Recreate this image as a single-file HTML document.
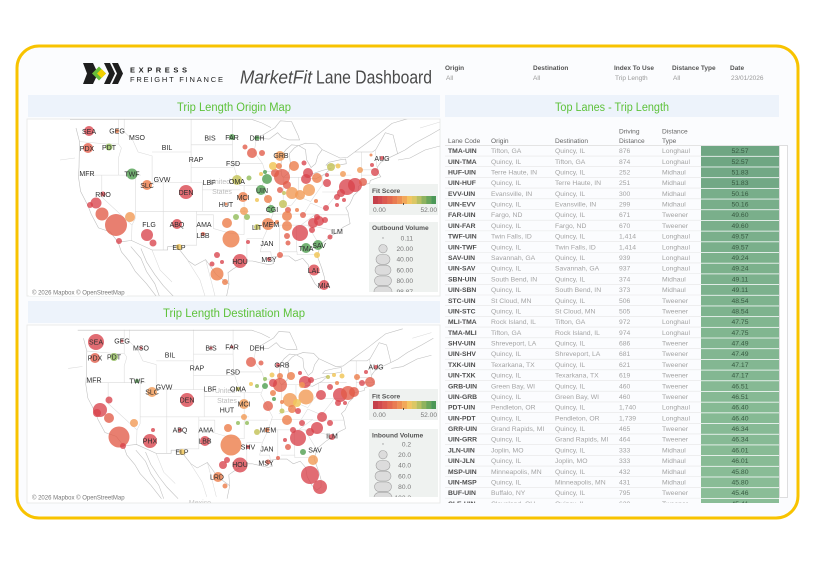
<!DOCTYPE html>
<html><head><meta charset="utf-8"><style>
html,body{margin:0;padding:0;background:#fff;}
svg{display:block;font-family:"Liberation Sans",sans-serif;}
.r{fill:#d8424b;fill-opacity:.78}
.ro{fill:#e25b48;fill-opacity:.78}
.o{fill:#ec7d4a;fill-opacity:.8}
.lo{fill:#f19a55;fill-opacity:.8}
.y{fill:#f1c75c;fill-opacity:.85}
.yg{fill:#c5c45e;fill-opacity:.85}
.lg{fill:#98c063;fill-opacity:.85}
.g{fill:#5ba45b;fill-opacity:.85}
.lb{font-size:7px;fill:#2e2e2e;text-anchor:middle;}
.th{font-size:6.6px;fill:#666;}
.lc{font-size:6.8px;fill:#4d4d4d;font-weight:bold;}
.tx{font-size:6.8px;fill:#a3a3a3;}
.sc{font-size:6.8px;fill:#375a41;text-anchor:middle;}
.fl{font-size:6.5px;fill:#555;font-weight:bold;}
.fv{font-size:6.5px;fill:#9a9a9a;}
.lgt{font-size:6.6px;fill:#555;font-weight:bold;}
.lgv{font-size:6.6px;fill:#777;}
.lgr{font-size:6.6px;fill:#777;text-anchor:end;}
</style></head><body>
<svg width="840" height="576" viewBox="0 0 840 576" xmlns="http://www.w3.org/2000/svg">
<defs>
<clipPath id="c1"><rect x="27" y="119" width="413" height="177"/></clipPath>
<clipPath id="c2"><rect x="27" y="325" width="413" height="178"/></clipPath>
<clipPath id="ct"><rect x="440" y="145" width="345" height="358"/></clipPath>
<clipPath id="lc1"><rect x="369" y="222" width="69" height="70"/></clipPath>
<clipPath id="lc2"><rect x="369" y="429" width="69" height="68"/></clipPath>
<g id="geo">
<path d="M79.5,141.6 L107.4,144 L118.6,144 M118.6,119 L118.6,144 L121.4,148 L118.6,157.5 L118.6,175.1 M78.4,175.1 L140.9,175.1 M101.8,175.1 L101.8,197.1 L132,225.1 L135.3,218.3 L135.3,175.1 M132,225.1 L131.5,240.5 M124.2,119 L124.2,131.8 L132.6,139.9 L138.1,152 L152.1,155.9 L152.1,182.6 L163.2,182.6 L163.2,211.3 M135.3,211.3 L249,211.3 M163.2,211.3 L163.2,250 M196.7,211.3 L196.7,245.2 L176.5,245.2 M152.1,152 L191.1,152 M163.2,182.6 L202.3,182.6 L202.3,211.3 M191.1,119 L191.1,182.6 M191.1,144.8 L232.5,144.8 M191.1,167.5 L233,167.5 M202.3,189.9 L240.4,189.9 M232.5,119 L232.5,144.8 L233,167.5 M233,163.7 L240,185.6 L261.6,185.6 M244.1,185.6 L244.1,234.6 M196.7,214.8 L213.4,214.8 L213.4,228.5 L230.2,233.3 L244.1,234.6 M246.9,238.6 L246.9,261 M246.9,238.6 L262.6,238.6 M244.1,214.8 L269.2,214.8 M233,163.7 L262.6,163.7 M256.4,138.3 L254.2,152 L262.6,163.7 L266,175.1 L261.5,187.8 L268.1,200 L273.7,211.3 L269.2,225.1 L263.1,238.6 L260.3,251.8 L270.8,251.8 L271.4,257 M266,171.3 L281,171.3 M283.2,177.3 L283.2,204.3 M280.4,207.8 L291.6,205 L298.3,196.4 L310.6,201.5 L321.7,185.6 M298.3,177.3 L298.3,196.4 M283.2,177.3 L306,177.3 M322.2,175.1 L322.2,185.6 M322.2,175.1 L351.3,175.1 M322.2,192 L348.5,192 M361.3,152 L361.3,182.6 M375.3,149.6 L376.9,167 M361.3,175.1 L380,175.1 M361.3,169.8 L377,169.8 M272,214.1 L315.6,214.1 L301,225.1 M269.2,225.1 L308.3,225.1 L330.6,229.8 L333.4,233.3 M315.6,214.8 L348,214.8 M310.6,203 L325,209.2 L336.2,194.9 L337.9,192 M279.3,225.1 L279.3,256 M296.6,225.1 L296.6,251.8 M282.6,251.8 L297.1,251.8 L297.1,254.5 L317,254.5 M307.7,225.1 L319.5,245.2 M310.6,203 L303.8,214.1 M152,250 L160,270 L172,282 M188,261 L200,280 L205,296 M205.6,259.6 L212,284 L215,296 M60,160 L75,158 M420,128 L440,122" fill="none" stroke="#dadada" stroke-width="0.55"/>
<path d="M76,128 L79.5,141.6 L79,167.5 L78.4,176.6 L80.6,191.4 L88,205.7 L91.2,214.1 L98.5,227.9 L110.2,231.9 L118,242 L131.5,240.5 L152.1,250 L167.7,250 L167.7,246.6 L177.1,246.6 L188.3,260.9 L195,265.4 L205.6,259.6 L216.2,274.6 L229,284.3 L228,272.7 L233,269 L241.3,264.1 L246.9,261 L252.5,261 L260.9,262.9 L269.2,264.8 L273.7,263.6 L271.4,257.2 L280.4,256 L288.8,256 L295.5,261 L302.7,258.3 L308.3,264.8 L310,274.6 L315,283.8 L320,289 L324.5,285.6 L324.5,277.6 L321.7,268 L317.2,256 L319.5,248.5 L320.6,244.7 L329.5,237.2 L336.2,232.6 L343.4,227.1 L350.1,223.7 L348,212 L345.8,207.8 L349.6,204.3 L352.4,198.5 L353.5,195.6 L358,191.4 L358.5,186.3 L359.7,185.6 L369.7,183.4 L370.3,180.5 L378,177.6 L380.8,176.8 L376.9,170.5 L377.5,167 L380.8,162.3 L389.2,157.7 L397.6,153.7 L405,150 L415,143 L430,135 L442,128 M70,119.5 L252,119.5 L262,123 L271,127.6 M322.2,149.6 L340,158 L347.4,157.5 L354.7,152 L372.5,152 L375.8,149.6 L385.3,132.7 L393.1,135.1 L397.6,153.7 M354.7,152 L374.2,137.5 L392,123.4 L410,118 M398,160 L410,158 L425,150 L440,146 M118,242 L121.4,251.8 L129.7,261.8 L135.3,271.5 L146.5,283.7 L157.6,298 M130.8,246.6 L140.9,258.3 L146.5,271.5 L154.8,283.7 L160,298 M140.9,248.5 L146.5,261.8 L154.8,274.6 L163.2,285.6 L175,298 M229,284.3 L226.2,298 M257.5,138.3 L275,127.6 L280.4,120.8 L291.6,121.6 L298.3,135.9 L299.5,139.9 L288.8,139.9 L282.1,137.5 L277.6,132.7 L269.2,139.1 Z M281.5,175.1 L283.2,177.3 L288.8,172.8 L290.4,163.7 L289.3,153.6 L294.3,148 L298.3,145.6 L291.6,144.8 L286,149.6 L281.5,155.9 L280.9,167.5 Z M298.8,145.6 L305.5,149.6 L306.6,159.8 L311.1,167.5 L315.6,163.7 L317.8,155.9 L322.2,149.6 L316.7,144 L305.5,143.2 Z M306,177.3 L315.6,178.9 L325.6,173.6 L331.2,168.2 L322.2,170.5 L311.1,174.3 Z M326.1,165.1 L339,165.1 L346.3,163.7 L345.7,159.1 L340.1,159.8 L328.9,162.3 Z" fill="none" stroke="#bfbfbf" stroke-width="0.6"/>
</g>
</defs>

<!-- frame -->
<rect x="17" y="46" width="781" height="472" rx="22" fill="#fbfcfe" stroke="#f8c300" stroke-width="3"/>

<!-- logo -->
<g transform="translate(83,63)">
<polygon points="0,0 10,0 15,10.5 10,21 0,21 4,10.5" fill="#1e1e1e"/>
<polygon points="9,10.5 16,3.5 23,10.5 16,17.5" fill="#68bd3a"/>
<polygon points="14,10.5 18.5,6 23,10.5 18.5,15" fill="#f3d000"/>
<polygon points="21,0 27,0 32,10.5 27,21 21,21 26,10.5" fill="#1e1e1e"/>
<polygon points="29,0 35,0 40,10.5 35,21 29,21 34,10.5" fill="#1e1e1e"/>
</g>
<text x="130" y="72.5" font-size="7.5" font-weight="bold" fill="#222" textLength="57" lengthAdjust="spacing">EXPRESS</text>
<text x="130" y="82" font-size="7.5" fill="#222" textLength="93" lengthAdjust="spacing">FREIGHT FINANCE</text>
<text x="240" y="83.5" font-size="18" font-style="italic" fill="#4a4a4a" textLength="72" lengthAdjust="spacingAndGlyphs">MarketFit</text>
<text x="316" y="83.5" font-size="18" fill="#4a4a4a" textLength="116" lengthAdjust="spacingAndGlyphs">Lane Dashboard</text>

<!-- filters -->
<text class="fl" x="445" y="70">Origin</text><text class="fv" x="446" y="80">All</text>
<text class="fl" x="533" y="70">Destination</text><text class="fv" x="533" y="80">All</text>
<text class="fl" x="614" y="70">Index To Use</text><text class="fv" x="615" y="80">Trip Length</text>
<text class="fl" x="672" y="70">Distance Type</text><text class="fv" x="673" y="80">All</text>
<text class="fl" x="730" y="70">Date</text><text class="fv" x="731" y="80">23/01/2026</text>

<!-- title bars -->
<rect x="28" y="95" width="412" height="22" fill="#edf3fb"/>
<text x="234" y="111" font-size="11.5" fill="#5ec23b" text-anchor="middle" textLength="114" lengthAdjust="spacingAndGlyphs">Trip Length Origin Map</text>
<rect x="28" y="301" width="412" height="22" fill="#edf3fb"/>
<text x="234" y="317" font-size="11.5" fill="#5ec23b" text-anchor="middle" textLength="142" lengthAdjust="spacingAndGlyphs">Trip Length Destination Map</text>
<rect x="445" y="95" width="334" height="22" fill="#edf3fb"/>
<text x="612" y="111" font-size="11.5" fill="#5ec23b" text-anchor="middle" textLength="114" lengthAdjust="spacingAndGlyphs">Top Lanes - Trip Length</text>

<!-- MAP 1 -->
<rect x="27" y="119" width="413" height="177" fill="#fff" stroke="#e6e6e6" stroke-width="0.8"/>
<g clip-path="url(#c1)">
<use href="#geo"/>
<text x="220" y="184" font-size="7" fill="#bdbdbd" text-anchor="middle">United</text>
<text x="222" y="194" font-size="7" fill="#bdbdbd" text-anchor="middle">States</text>
<circle class="r" cx="89" cy="131" r="5"/><circle class="o" cx="117" cy="131" r="2"/><circle class="ro" cx="88" cy="148" r="5"/><circle class="lg" cx="109" cy="147" r="3.5"/><circle class="g" cx="132" cy="174" r="5.5"/><circle class="o" cx="147" cy="185" r="5"/><circle class="r" cx="186" cy="192" r="7"/><circle class="r" cx="103" cy="194" r="2.5"/><circle class="r" cx="96" cy="203" r="5.5"/><circle class="r" cx="90" cy="205" r="3"/><circle class="ro" cx="102" cy="214" r="6.5"/><circle class="ro" cx="116" cy="225" r="11"/><circle class="r" cx="119" cy="241" r="3"/><circle class="lo" cx="130" cy="217" r="5"/><circle class="r" cx="147" cy="235" r="6"/><circle class="r" cx="153" cy="243" r="3.5"/><circle class="r" cx="177" cy="224" r="5"/><circle class="y" cx="179" cy="247" r="3"/><circle class="ro" cx="203" cy="234" r="2"/>
<circle class="o" cx="231" cy="239" r="8.5"/><circle class="o" cx="227" cy="223" r="5"/><circle class="r" cx="240" cy="261" r="7"/><circle class="r" cx="217" cy="255" r="3"/><circle class="r" cx="222" cy="262" r="2"/><circle class="r" cx="212" cy="264" r="2.5"/><circle class="o" cx="217" cy="274" r="6.5"/><circle class="o" cx="225" cy="282" r="3"/><circle class="r" cx="248" cy="242" r="2"/><circle class="o" cx="243" cy="197" r="5"/><circle class="yg" cx="237" cy="180" r="5"/><circle class="o" cx="226" cy="204" r="1.5"/><circle class="lo" cx="244" cy="211" r="4"/><circle class="lg" cx="236" cy="217" r="3"/><circle class="lg" cx="247" cy="217" r="3"/>
<circle class="g" cx="232" cy="137" r="3"/><circle class="g" cx="257" cy="138" r="2.5"/><circle class="ro" cx="245" cy="147" r="2.5"/><circle class="ro" cx="252" cy="153" r="5"/><circle class="ro" cx="262" cy="153" r="3"/><circle class="lo" cx="280" cy="156" r="5"/><circle class="g" cx="261" cy="190" r="5"/><circle class="g" cx="267" cy="179" r="5"/><circle class="lg" cx="249" cy="178" r="2.5"/><circle class="g" cx="265" cy="172" r="2"/><circle class="y" cx="261" cy="174" r="2"/><circle class="ro" cx="282" cy="177" r="8"/><circle class="ro" cx="275" cy="173" r="4"/><circle class="y" cx="273" cy="166" r="4"/><circle class="o" cx="279" cy="166" r="3"/><circle class="ro" cx="287" cy="185" r="4"/><circle class="o" cx="294" cy="166" r="5"/><circle class="r" cx="304" cy="163" r="2.5"/><circle class="r" cx="308" cy="173" r="5"/><circle class="r" cx="306" cy="179" r="5"/><circle class="o" cx="317" cy="178" r="5"/><circle class="lo" cx="309" cy="190" r="6"/><circle class="r" cx="327" cy="175" r="2"/><circle class="yg" cx="331" cy="167" r="4"/><circle class="y" cx="338" cy="166" r="2.5"/><circle class="lo" cx="343" cy="174" r="3"/><circle class="lo" cx="360" cy="170" r="3"/><circle class="r" cx="375" cy="172" r="4"/><circle class="ro" cx="280" cy="190" r="3"/><circle class="lo" cx="292" cy="193" r="6"/><circle class="lo" cx="300" cy="195" r="5"/><circle class="yg" cx="284" cy="193" r="2"/><circle class="o" cx="268" cy="199" r="4"/><circle class="o" cx="316" cy="201" r="2"/><circle class="r" cx="327" cy="183" r="4"/><circle class="r" cx="347" cy="187" r="8"/><circle class="r" cx="355" cy="185" r="7"/><circle class="ro" cx="363" cy="182" r="4"/><circle class="r" cx="341" cy="193" r="4"/><circle class="r" cx="337" cy="197" r="3"/><circle class="r" cx="344" cy="200" r="2"/><circle class="y" cx="257" cy="200" r="2"/><circle class="g" cx="271" cy="209" r="4"/><circle class="yg" cx="283" cy="204" r="4"/><circle class="ro" cx="288" cy="210" r="3"/><circle class="o" cx="287" cy="216" r="5"/><circle class="o" cx="297" cy="210" r="2"/><circle class="ro" cx="303" cy="215" r="3"/><circle class="r" cx="317" cy="217" r="3"/><circle class="r" cx="326" cy="208" r="3"/><circle class="r" cx="337" cy="205" r="2"/><circle class="o" cx="268" cy="224" r="6"/><circle class="o" cx="287" cy="226" r="5"/><circle class="o" cx="277" cy="222" r="2"/><circle class="r" cx="300" cy="233" r="8"/><circle class="r" cx="313" cy="223" r="5"/><circle class="r" cx="319" cy="221" r="5"/><circle class="r" cx="325" cy="220" r="3"/><circle class="r" cx="312" cy="230" r="3"/><circle class="ro" cx="287" cy="236" r="3"/><circle class="ro" cx="288" cy="243" r="2.5"/><circle class="yg" cx="257" cy="227" r="3"/><circle class="g" cx="306" cy="248" r="5"/><circle class="g" cx="318" cy="245" r="5"/><circle class="y" cx="317" cy="255" r="3"/><circle class="r" cx="330" cy="237" r="2.5"/><circle class="ro" cx="280" cy="255" r="3"/><circle class="r" cx="269" cy="259" r="2"/><circle class="r" cx="314" cy="270" r="5.5"/><circle class="r" cx="324" cy="285" r="5"/><circle class="o" cx="371" cy="155" r="1.5"/><circle class="r" cx="382" cy="158" r="2"/><circle class="r" cx="372" cy="165" r="2"/>
<text class="lb" x="89" y="134">SEA</text><text class="lb" x="117" y="133.5">GEG</text><text class="lb" x="137" y="140">MSO</text><text class="lb" x="210" y="140.5">BIS</text><text class="lb" x="232" y="140">FAR</text><text class="lb" x="257" y="140.5">DEH</text><text class="lb" x="167" y="150">BIL</text><text class="lb" x="87" y="151">PDX</text><text class="lb" x="109" y="150">PDT</text><text class="lb" x="196" y="162">RAP</text><text class="lb" x="281" y="158">GRB</text><text class="lb" x="382" y="161">AUG</text><text class="lb" x="233" y="166">FSD</text><text class="lb" x="87" y="176">MFR</text><text class="lb" x="132" y="176.5">TWF</text><text class="lb" x="162" y="182">GVW</text><text class="lb" x="147" y="188">SLC</text><text class="lb" x="209" y="185">LBF</text><text class="lb" x="237" y="184">OMA</text><text class="lb" x="186" y="195">DEN</text><text class="lb" x="262" y="193">UIN</text><text class="lb" x="103" y="197">RNO</text><text class="lb" x="243" y="200">MCI</text><text class="lb" x="226" y="207">HUT</text><text class="lb" x="272" y="212">CGI</text><text class="lb" x="149" y="227">FLG</text><text class="lb" x="177" y="227">ABQ</text><text class="lb" x="204" y="227">AMA</text><text class="lb" x="271" y="227">MEM</text><text class="lb" x="257" y="230">LIT</text><text class="lb" x="337" y="234">ILM</text><text class="lb" x="203" y="238">LBB</text><text class="lb" x="267" y="246">JAN</text><text class="lb" x="179" y="250">ELP</text><text class="lb" x="306" y="251">TMA</text><text class="lb" x="319" y="248">SAV</text><text class="lb" x="240" y="264">HOU</text><text class="lb" x="269" y="262">MSY</text><text class="lb" x="314" y="273">LAL</text><text class="lb" x="324" y="288">MIA</text>
<rect x="29" y="288" width="98" height="8" fill="#fff" fill-opacity="0.8"/>
<text x="32" y="294.5" font-size="6" fill="#777">© 2026 Mapbox © OpenStreetMap</text>
</g>
<!-- legend 1 -->
<rect x="369" y="184" width="69" height="31" fill="#eff2f0"/>
<text class="lgt" x="372" y="193">Fit Score</text>
<g transform="translate(373,196)">
<rect x="0" width="5" height="8" fill="#c4404a"/><rect x="4.85" width="5" height="8" fill="#d14b4f"/><rect x="9.7" width="5" height="8" fill="#dc5a50"/><rect x="14.55" width="5" height="8" fill="#e36a50"/><rect x="19.4" width="5" height="8" fill="#e97c52"/><rect x="24.25" width="5" height="8" fill="#ee9054"/><rect x="29.1" width="5" height="8" fill="#f2a85a"/><rect x="33.95" width="5" height="8" fill="#f3c462"/><rect x="38.8" width="5" height="8" fill="#dcc763"/><rect x="43.65" width="5" height="8" fill="#b7bf62"/><rect x="48.5" width="5" height="8" fill="#8fb35f"/><rect x="53.35" width="5" height="8" fill="#6aa65c"/><rect x="58.2" width="4.8" height="8" fill="#4c9857"/>
<rect x="30" y="7" width="0.8" height="2" fill="#333"/>
</g>
<text class="lgv" x="373" y="212">0.00</text><text class="lgr" x="437" y="212">52.00</text>
<rect x="369" y="222" width="69" height="70" fill="#eff2f0"/>
<text class="lgt" x="372" y="230">Outbound Volume</text>
<g clip-path="url(#lc1)">
<circle cx="383" cy="238" r="0.7" fill="#999"/>
<circle cx="383" cy="248.7" r="4.2" fill="#dcdcdc" stroke="#a0a0a0" stroke-width="0.6"/>
<rect x="376" y="254.5" width="14" height="9.8" rx="5" fill="#dcdcdc" stroke="#a0a0a0" stroke-width="0.6"/>
<rect x="375" y="265.2" width="16" height="9.8" rx="5" fill="#dcdcdc" stroke="#a0a0a0" stroke-width="0.6"/>
<rect x="374.5" y="275.9" width="17" height="9.8" rx="5" fill="#dcdcdc" stroke="#a0a0a0" stroke-width="0.6"/>
<rect x="374" y="286.6" width="18" height="12" rx="5" fill="#dcdcdc" stroke="#a0a0a0" stroke-width="0.6"/>
<text class="lgr" x="413" y="240.3">0.11</text><text class="lgr" x="413" y="251">20.00</text><text class="lgr" x="413" y="261.7">40.00</text><text class="lgr" x="413" y="272.4">60.00</text><text class="lgr" x="413" y="283.1">80.00</text><text class="lgr" x="413" y="293.8">98.87</text>
</g>

<!-- MAP 2 -->
<rect x="27" y="325" width="413" height="178" fill="#fff" stroke="#e6e6e6" stroke-width="0.8"/>
<g clip-path="url(#c2)">
<use href="#geo" transform="matrix(0.956 0 0 0.944 10.8 217.4)"/>
<text x="225" y="393" font-size="7" fill="#bdbdbd" text-anchor="middle">United</text>
<text x="227" y="403" font-size="7" fill="#bdbdbd" text-anchor="middle">States</text>
<text x="200" y="505" font-size="7" fill="#c8c8c8" text-anchor="middle">Mexico</text>
<circle class="r" cx="96" cy="342" r="8"/><circle class="ro" cx="95" cy="358" r="5"/><circle class="lg" cx="114" cy="357" r="4"/><circle class="r" cx="122" cy="341" r="1.5"/><circle class="r" cx="141" cy="348" r="1.5"/><circle class="r" cx="211" cy="348" r="1.5"/><circle class="r" cx="232" cy="347" r="1.5"/><circle class="g" cx="137" cy="381" r="2"/><circle class="lo" cx="152" cy="392" r="5"/><circle class="r" cx="187" cy="400" r="7"/><circle class="r" cx="100" cy="410" r="7"/><circle class="r" cx="97" cy="413" r="4"/><circle class="ro" cx="109" cy="418" r="5"/><circle class="r" cx="109" cy="400" r="3.5"/><circle class="ro" cx="119" cy="437" r="10.5"/><circle class="r" cx="123" cy="446" r="3"/><circle class="lo" cx="134" cy="423" r="4"/><circle class="r" cx="153" cy="430" r="2"/><circle class="r" cx="150" cy="441" r="7"/><circle class="r" cx="180" cy="430" r="2"/><circle class="r" cx="205" cy="441" r="5"/><circle class="y" cx="182" cy="452" r="3"/>
<circle class="o" cx="231" cy="445" r="10.5"/><circle class="o" cx="228" cy="428" r="4"/><circle class="r" cx="240" cy="465" r="7.5"/><circle class="r" cx="227" cy="460" r="3"/><circle class="r" cx="223" cy="465" r="4"/><circle class="o" cx="218" cy="477" r="5"/><circle class="o" cx="225" cy="486" r="2.5"/><circle class="lo" cx="244" cy="404" r="5"/><circle class="yg" cx="238" cy="389" r="2"/><circle class="lo" cx="244" cy="417" r="3"/><circle class="lg" cx="238" cy="423" r="2"/><circle class="lg" cx="247" cy="423" r="2"/><circle class="yg" cx="257" cy="432" r="3"/><circle class="r" cx="248" cy="447" r="2"/><circle class="o" cx="267" cy="430" r="2.5"/><circle class="ro" cx="268" cy="462" r="2.5"/><circle class="ro" cx="278" cy="458" r="2"/>
<circle class="ro" cx="251" cy="362" r="5"/><circle class="ro" cx="261" cy="363" r="2.5"/><circle class="r" cx="278" cy="365" r="2"/><circle class="y" cx="272" cy="375" r="2.5"/><circle class="o" cx="280" cy="376" r="3"/><circle class="o" cx="291" cy="376" r="4"/><circle class="r" cx="300" cy="373" r="2"/><circle class="r" cx="305" cy="382" r="6"/><circle class="r" cx="311" cy="380" r="3"/><circle class="lo" cx="302" cy="385" r="3"/><circle class="lg" cx="265" cy="379" r="2"/><circle class="g" cx="265" cy="386" r="3"/><circle class="lg" cx="257" cy="386" r="2"/><circle class="y" cx="251" cy="384" r="2"/><circle class="ro" cx="280" cy="385" r="7"/><circle class="r" cx="273" cy="383" r="4"/><circle class="o" cx="273" cy="393" r="3"/><circle class="g" cx="274" cy="399" r="2"/><circle class="lo" cx="290" cy="400" r="7"/><circle class="lo" cx="306" cy="397" r="7.5"/><circle class="y" cx="297" cy="403" r="4"/><circle class="o" cx="292" cy="409" r="4"/><circle class="r" cx="298" cy="411" r="3"/><circle class="ro" cx="268" cy="406" r="5"/><circle class="yg" cx="282" cy="411" r="2.5"/><circle class="o" cx="282" cy="402" r="2"/><circle class="r" cx="321" cy="395" r="5"/><circle class="r" cx="330" cy="387" r="3"/><circle class="o" cx="337" cy="383" r="2"/><circle class="yg" cx="328" cy="377" r="2"/><circle class="y" cx="334" cy="375" r="2"/><circle class="y" cx="342" cy="376" r="2.5"/><circle class="o" cx="357" cy="377" r="3"/><circle class="r" cx="366" cy="372" r="2"/><circle class="ro" cx="370" cy="382" r="5"/><circle class="r" cx="362" cy="383" r="3"/><circle class="r" cx="340" cy="395" r="7"/><circle class="ro" cx="348" cy="393" r="7"/><circle class="ro" cx="354" cy="392" r="5"/><circle class="r" cx="338" cy="403" r="3"/><circle class="r" cx="345" cy="403" r="2"/><circle class="r" cx="322" cy="417" r="5"/><circle class="r" cx="330" cy="423" r="3"/><circle class="r" cx="317" cy="428" r="6"/><circle class="r" cx="310" cy="432" r="4"/><circle class="r" cx="302" cy="423" r="3"/><circle class="r" cx="293" cy="430" r="3"/><circle class="r" cx="298" cy="438" r="8"/><circle class="o" cx="287" cy="420" r="5"/><circle class="r" cx="285" cy="440" r="2"/><circle class="ro" cx="288" cy="447" r="3"/><circle class="r" cx="332" cy="437" r="3"/><circle class="g" cx="303" cy="452" r="3"/><circle class="lo" cx="313" cy="460" r="5"/><circle class="r" cx="310" cy="475" r="9"/><circle class="r" cx="320" cy="487" r="7"/><circle class="r" cx="376" cy="367" r="2"/>
<text class="lb" x="96" y="344.5">SEA</text><text class="lb" x="122" y="343.5">GEG</text><text class="lb" x="141" y="350.5">MSO</text><text class="lb" x="211" y="350.5">BIS</text><text class="lb" x="232" y="349.5">FAR</text><text class="lb" x="257" y="350.5">DEH</text><text class="lb" x="170" y="357.5">BIL</text><text class="lb" x="95" y="360.5">PDX</text><text class="lb" x="114" y="359.5">PDT</text><text class="lb" x="197" y="370.5">RAP</text><text class="lb" x="282" y="367.5">GRB</text><text class="lb" x="376" y="369.5">AUG</text><text class="lb" x="233" y="374.5">FSD</text><text class="lb" x="94" y="382.5">MFR</text><text class="lb" x="137" y="383.5">TWF</text><text class="lb" x="164" y="389.5">GVW</text><text class="lb" x="152" y="394.5">SLC</text><text class="lb" x="210" y="391.5">LBF</text><text class="lb" x="238" y="391.5">OMA</text><text class="lb" x="187" y="402.5">DEN</text><text class="lb" x="244" y="406.5">MCI</text><text class="lb" x="227" y="412.5">HUT</text><text class="lb" x="180" y="432.5">ABQ</text><text class="lb" x="206" y="432.5">AMA</text><text class="lb" x="205" y="443.5">LBB</text><text class="lb" x="150" y="443.5">PHX</text><text class="lb" x="182" y="454.5">ELP</text><text class="lb" x="248" y="449.5">SHV</text><text class="lb" x="267" y="451.5">JAN</text><text class="lb" x="268" y="432.5">MEM</text><text class="lb" x="332" y="438.5">ILM</text><text class="lb" x="315" y="452.5">SAV</text><text class="lb" x="240" y="467">HOU</text><text class="lb" x="266" y="465.5">MSY</text><text class="lb" x="217" y="479.5">LRD</text>
<rect x="29" y="493" width="98" height="8" fill="#fff" fill-opacity="0.8"/>
<text x="32" y="499.5" font-size="6" fill="#777">© 2026 Mapbox © OpenStreetMap</text>
</g>
<!-- legend 2 -->
<rect x="369" y="389" width="69" height="31" fill="#eff2f0"/>
<text class="lgt" x="372" y="398.5">Fit Score</text>
<g transform="translate(373,401)">
<rect x="0" width="5" height="8" fill="#c4404a"/><rect x="4.85" width="5" height="8" fill="#d14b4f"/><rect x="9.7" width="5" height="8" fill="#dc5a50"/><rect x="14.55" width="5" height="8" fill="#e36a50"/><rect x="19.4" width="5" height="8" fill="#e97c52"/><rect x="24.25" width="5" height="8" fill="#ee9054"/><rect x="29.1" width="5" height="8" fill="#f2a85a"/><rect x="33.95" width="5" height="8" fill="#f3c462"/><rect x="38.8" width="5" height="8" fill="#dcc763"/><rect x="43.65" width="5" height="8" fill="#b7bf62"/><rect x="48.5" width="5" height="8" fill="#8fb35f"/><rect x="53.35" width="5" height="8" fill="#6aa65c"/><rect x="58.2" width="4.8" height="8" fill="#4c9857"/>
<rect x="30" y="7" width="0.8" height="2" fill="#333"/>
</g>
<text class="lgv" x="373" y="417">0.00</text><text class="lgr" x="437" y="417">52.00</text>
<rect x="369" y="429" width="69" height="68" fill="#eff2f0"/>
<text class="lgt" x="372" y="437.5">Inbound Volume</text>
<g clip-path="url(#lc2)">
<circle cx="383" cy="444" r="0.7" fill="#999"/>
<circle cx="383" cy="454.7" r="4.2" fill="#dcdcdc" stroke="#a0a0a0" stroke-width="0.6"/>
<rect x="376" y="460.5" width="14" height="9.8" rx="5" fill="#dcdcdc" stroke="#a0a0a0" stroke-width="0.6"/>
<rect x="375" y="471.2" width="16" height="9.8" rx="5" fill="#dcdcdc" stroke="#a0a0a0" stroke-width="0.6"/>
<rect x="374.5" y="481.9" width="17" height="9.8" rx="5" fill="#dcdcdc" stroke="#a0a0a0" stroke-width="0.6"/>
<rect x="374" y="492.6" width="18" height="12" rx="5" fill="#dcdcdc" stroke="#a0a0a0" stroke-width="0.6"/>
<text class="lgr" x="411" y="446.3">0.2</text><text class="lgr" x="411" y="457">20.0</text><text class="lgr" x="411" y="467.7">40.0</text><text class="lgr" x="411" y="478.4">60.0</text><text class="lgr" x="411" y="489.1">80.0</text><text class="lgr" x="411" y="499.8">102.2</text>
</g>

<!-- TABLE -->
<text class="th" x="619" y="133.5">Driving</text><text class="th" x="662" y="133.5">Distance</text>
<text class="th" x="448" y="143">Lane Code</text><text class="th" x="491" y="143">Origin</text><text class="th" x="555" y="143">Destination</text><text class="th" x="619" y="143">Distance</text><text class="th" x="662" y="143">Type</text>
<line x1="445" y1="145.6" x2="779" y2="145.6" stroke="#dcdcdc" stroke-width="0.7"/>
<rect x="779.5" y="145.5" width="8" height="352" fill="#fff" stroke="#d2d2d2" stroke-width="0.7"/>
<g clip-path="url(#ct)">
<g transform="translate(0,0)"><rect x="701" y="146" width="78" height="9.9" fill="#6fa683"/><line x1="445" y1="156.04" x2="701" y2="156.04" stroke="#e6e6e6" stroke-width="0.6"/><text class="lc" x="448" y="153.1">TMA-UIN</text><text class="tx" x="491" y="153.1">Tifton, GA</text><text class="tx" x="555" y="153.1">Quincy, IL</text><text class="tx" x="619" y="153.1">876</text><text class="tx" x="662" y="153.1">Longhaul</text><text class="sc" x="740" y="153.1">52.57</text></g>
<g transform="translate(0,10.69)"><rect x="701" y="146" width="78" height="9.9" fill="#6fa683"/><line x1="445" y1="156.04" x2="701" y2="156.04" stroke="#e6e6e6" stroke-width="0.6"/><text class="lc" x="448" y="153.1">UIN-TMA</text><text class="tx" x="491" y="153.1">Quincy, IL</text><text class="tx" x="555" y="153.1">Tifton, GA</text><text class="tx" x="619" y="153.1">874</text><text class="tx" x="662" y="153.1">Longhaul</text><text class="sc" x="740" y="153.1">52.57</text></g>
<g transform="translate(0,21.38)"><rect x="701" y="146" width="78" height="9.9" fill="#72a885"/><line x1="445" y1="156.04" x2="701" y2="156.04" stroke="#e6e6e6" stroke-width="0.6"/><text class="lc" x="448" y="153.1">HUF-UIN</text><text class="tx" x="491" y="153.1">Terre Haute, IN</text><text class="tx" x="555" y="153.1">Quincy, IL</text><text class="tx" x="619" y="153.1">252</text><text class="tx" x="662" y="153.1">Midhaul</text><text class="sc" x="740" y="153.1">51.83</text></g>
<g transform="translate(0,32.07)"><rect x="701" y="146" width="78" height="9.9" fill="#72a885"/><line x1="445" y1="156.04" x2="701" y2="156.04" stroke="#e6e6e6" stroke-width="0.6"/><text class="lc" x="448" y="153.1">UIN-HUF</text><text class="tx" x="491" y="153.1">Quincy, IL</text><text class="tx" x="555" y="153.1">Terre Haute, IN</text><text class="tx" x="619" y="153.1">251</text><text class="tx" x="662" y="153.1">Midhaul</text><text class="sc" x="740" y="153.1">51.83</text></g>
<g transform="translate(0,42.76)"><rect x="701" y="146" width="78" height="9.9" fill="#78ae8a"/><line x1="445" y1="156.04" x2="701" y2="156.04" stroke="#e6e6e6" stroke-width="0.6"/><text class="lc" x="448" y="153.1">EVV-UIN</text><text class="tx" x="491" y="153.1">Evansville, IN</text><text class="tx" x="555" y="153.1">Quincy, IL</text><text class="tx" x="619" y="153.1">300</text><text class="tx" x="662" y="153.1">Midhaul</text><text class="sc" x="740" y="153.1">50.16</text></g>
<g transform="translate(0,53.45)"><rect x="701" y="146" width="78" height="9.9" fill="#78ae8a"/><line x1="445" y1="156.04" x2="701" y2="156.04" stroke="#e6e6e6" stroke-width="0.6"/><text class="lc" x="448" y="153.1">UIN-EVV</text><text class="tx" x="491" y="153.1">Quincy, IL</text><text class="tx" x="555" y="153.1">Evansville, IN</text><text class="tx" x="619" y="153.1">299</text><text class="tx" x="662" y="153.1">Midhaul</text><text class="sc" x="740" y="153.1">50.16</text></g>
<g transform="translate(0,64.14)"><rect x="701" y="146" width="78" height="9.9" fill="#7aaf8b"/><line x1="445" y1="156.04" x2="701" y2="156.04" stroke="#e6e6e6" stroke-width="0.6"/><text class="lc" x="448" y="153.1">FAR-UIN</text><text class="tx" x="491" y="153.1">Fargo, ND</text><text class="tx" x="555" y="153.1">Quincy, IL</text><text class="tx" x="619" y="153.1">671</text><text class="tx" x="662" y="153.1">Tweener</text><text class="sc" x="740" y="153.1">49.60</text></g>
<g transform="translate(0,74.83)"><rect x="701" y="146" width="78" height="9.9" fill="#7aaf8b"/><line x1="445" y1="156.04" x2="701" y2="156.04" stroke="#e6e6e6" stroke-width="0.6"/><text class="lc" x="448" y="153.1">UIN-FAR</text><text class="tx" x="491" y="153.1">Quincy, IL</text><text class="tx" x="555" y="153.1">Fargo, ND</text><text class="tx" x="619" y="153.1">670</text><text class="tx" x="662" y="153.1">Tweener</text><text class="sc" x="740" y="153.1">49.60</text></g>
<g transform="translate(0,85.52)"><rect x="701" y="146" width="78" height="9.9" fill="#7aaf8b"/><line x1="445" y1="156.04" x2="701" y2="156.04" stroke="#e6e6e6" stroke-width="0.6"/><text class="lc" x="448" y="153.1">TWF-UIN</text><text class="tx" x="491" y="153.1">Twin Falls, ID</text><text class="tx" x="555" y="153.1">Quincy, IL</text><text class="tx" x="619" y="153.1">1,414</text><text class="tx" x="662" y="153.1">Longhaul</text><text class="sc" x="740" y="153.1">49.57</text></g>
<g transform="translate(0,96.21)"><rect x="701" y="146" width="78" height="9.9" fill="#7aaf8b"/><line x1="445" y1="156.04" x2="701" y2="156.04" stroke="#e6e6e6" stroke-width="0.6"/><text class="lc" x="448" y="153.1">UIN-TWF</text><text class="tx" x="491" y="153.1">Quincy, IL</text><text class="tx" x="555" y="153.1">Twin Falls, ID</text><text class="tx" x="619" y="153.1">1,414</text><text class="tx" x="662" y="153.1">Longhaul</text><text class="sc" x="740" y="153.1">49.57</text></g>
<g transform="translate(0,106.9)"><rect x="701" y="146" width="78" height="9.9" fill="#7cb18c"/><line x1="445" y1="156.04" x2="701" y2="156.04" stroke="#e6e6e6" stroke-width="0.6"/><text class="lc" x="448" y="153.1">SAV-UIN</text><text class="tx" x="491" y="153.1">Savannah, GA</text><text class="tx" x="555" y="153.1">Quincy, IL</text><text class="tx" x="619" y="153.1">939</text><text class="tx" x="662" y="153.1">Longhaul</text><text class="sc" x="740" y="153.1">49.24</text></g>
<g transform="translate(0,117.59)"><rect x="701" y="146" width="78" height="9.9" fill="#7cb18c"/><line x1="445" y1="156.04" x2="701" y2="156.04" stroke="#e6e6e6" stroke-width="0.6"/><text class="lc" x="448" y="153.1">UIN-SAV</text><text class="tx" x="491" y="153.1">Quincy, IL</text><text class="tx" x="555" y="153.1">Savannah, GA</text><text class="tx" x="619" y="153.1">937</text><text class="tx" x="662" y="153.1">Longhaul</text><text class="sc" x="740" y="153.1">49.24</text></g>
<g transform="translate(0,128.28)"><rect x="701" y="146" width="78" height="9.9" fill="#7cb18d"/><line x1="445" y1="156.04" x2="701" y2="156.04" stroke="#e6e6e6" stroke-width="0.6"/><text class="lc" x="448" y="153.1">SBN-UIN</text><text class="tx" x="491" y="153.1">South Bend, IN</text><text class="tx" x="555" y="153.1">Quincy, IL</text><text class="tx" x="619" y="153.1">374</text><text class="tx" x="662" y="153.1">Midhaul</text><text class="sc" x="740" y="153.1">49.11</text></g>
<g transform="translate(0,138.97)"><rect x="701" y="146" width="78" height="9.9" fill="#7cb18d"/><line x1="445" y1="156.04" x2="701" y2="156.04" stroke="#e6e6e6" stroke-width="0.6"/><text class="lc" x="448" y="153.1">UIN-SBN</text><text class="tx" x="491" y="153.1">Quincy, IL</text><text class="tx" x="555" y="153.1">South Bend, IN</text><text class="tx" x="619" y="153.1">373</text><text class="tx" x="662" y="153.1">Midhaul</text><text class="sc" x="740" y="153.1">49.11</text></g>
<g transform="translate(0,149.66)"><rect x="701" y="146" width="78" height="9.9" fill="#7eb38e"/><line x1="445" y1="156.04" x2="701" y2="156.04" stroke="#e6e6e6" stroke-width="0.6"/><text class="lc" x="448" y="153.1">STC-UIN</text><text class="tx" x="491" y="153.1">St Cloud, MN</text><text class="tx" x="555" y="153.1">Quincy, IL</text><text class="tx" x="619" y="153.1">506</text><text class="tx" x="662" y="153.1">Tweener</text><text class="sc" x="740" y="153.1">48.54</text></g>
<g transform="translate(0,160.35)"><rect x="701" y="146" width="78" height="9.9" fill="#7eb38e"/><line x1="445" y1="156.04" x2="701" y2="156.04" stroke="#e6e6e6" stroke-width="0.6"/><text class="lc" x="448" y="153.1">UIN-STC</text><text class="tx" x="491" y="153.1">Quincy, IL</text><text class="tx" x="555" y="153.1">St Cloud, MN</text><text class="tx" x="619" y="153.1">505</text><text class="tx" x="662" y="153.1">Tweener</text><text class="sc" x="740" y="153.1">48.54</text></g>
<g transform="translate(0,171.04)"><rect x="701" y="146" width="78" height="9.9" fill="#81b690"/><line x1="445" y1="156.04" x2="701" y2="156.04" stroke="#e6e6e6" stroke-width="0.6"/><text class="lc" x="448" y="153.1">MLI-TMA</text><text class="tx" x="491" y="153.1">Rock Island, IL</text><text class="tx" x="555" y="153.1">Tifton, GA</text><text class="tx" x="619" y="153.1">972</text><text class="tx" x="662" y="153.1">Longhaul</text><text class="sc" x="740" y="153.1">47.75</text></g>
<g transform="translate(0,181.73)"><rect x="701" y="146" width="78" height="9.9" fill="#81b690"/><line x1="445" y1="156.04" x2="701" y2="156.04" stroke="#e6e6e6" stroke-width="0.6"/><text class="lc" x="448" y="153.1">TMA-MLI</text><text class="tx" x="491" y="153.1">Tifton, GA</text><text class="tx" x="555" y="153.1">Rock Island, IL</text><text class="tx" x="619" y="153.1">974</text><text class="tx" x="662" y="153.1">Longhaul</text><text class="sc" x="740" y="153.1">47.75</text></g>
<g transform="translate(0,192.42)"><rect x="701" y="146" width="78" height="9.9" fill="#82b691"/><line x1="445" y1="156.04" x2="701" y2="156.04" stroke="#e6e6e6" stroke-width="0.6"/><text class="lc" x="448" y="153.1">SHV-UIN</text><text class="tx" x="491" y="153.1">Shreveport, LA</text><text class="tx" x="555" y="153.1">Quincy, IL</text><text class="tx" x="619" y="153.1">686</text><text class="tx" x="662" y="153.1">Tweener</text><text class="sc" x="740" y="153.1">47.49</text></g>
<g transform="translate(0,203.11)"><rect x="701" y="146" width="78" height="9.9" fill="#82b691"/><line x1="445" y1="156.04" x2="701" y2="156.04" stroke="#e6e6e6" stroke-width="0.6"/><text class="lc" x="448" y="153.1">UIN-SHV</text><text class="tx" x="491" y="153.1">Quincy, IL</text><text class="tx" x="555" y="153.1">Shreveport, LA</text><text class="tx" x="619" y="153.1">681</text><text class="tx" x="662" y="153.1">Tweener</text><text class="sc" x="740" y="153.1">47.49</text></g>
<g transform="translate(0,213.8)"><rect x="701" y="146" width="78" height="9.9" fill="#83b792"/><line x1="445" y1="156.04" x2="701" y2="156.04" stroke="#e6e6e6" stroke-width="0.6"/><text class="lc" x="448" y="153.1">TXK-UIN</text><text class="tx" x="491" y="153.1">Texarkana, TX</text><text class="tx" x="555" y="153.1">Quincy, IL</text><text class="tx" x="619" y="153.1">621</text><text class="tx" x="662" y="153.1">Tweener</text><text class="sc" x="740" y="153.1">47.17</text></g>
<g transform="translate(0,224.49)"><rect x="701" y="146" width="78" height="9.9" fill="#83b792"/><line x1="445" y1="156.04" x2="701" y2="156.04" stroke="#e6e6e6" stroke-width="0.6"/><text class="lc" x="448" y="153.1">UIN-TXK</text><text class="tx" x="491" y="153.1">Quincy, IL</text><text class="tx" x="555" y="153.1">Texarkana, TX</text><text class="tx" x="619" y="153.1">619</text><text class="tx" x="662" y="153.1">Tweener</text><text class="sc" x="740" y="153.1">47.17</text></g>
<g transform="translate(0,235.18)"><rect x="701" y="146" width="78" height="9.9" fill="#86b994"/><line x1="445" y1="156.04" x2="701" y2="156.04" stroke="#e6e6e6" stroke-width="0.6"/><text class="lc" x="448" y="153.1">GRB-UIN</text><text class="tx" x="491" y="153.1">Green Bay, WI</text><text class="tx" x="555" y="153.1">Quincy, IL</text><text class="tx" x="619" y="153.1">460</text><text class="tx" x="662" y="153.1">Tweener</text><text class="sc" x="740" y="153.1">46.51</text></g>
<g transform="translate(0,245.87)"><rect x="701" y="146" width="78" height="9.9" fill="#86b994"/><line x1="445" y1="156.04" x2="701" y2="156.04" stroke="#e6e6e6" stroke-width="0.6"/><text class="lc" x="448" y="153.1">UIN-GRB</text><text class="tx" x="491" y="153.1">Quincy, IL</text><text class="tx" x="555" y="153.1">Green Bay, WI</text><text class="tx" x="619" y="153.1">460</text><text class="tx" x="662" y="153.1">Tweener</text><text class="sc" x="740" y="153.1">46.51</text></g>
<g transform="translate(0,256.56)"><rect x="701" y="146" width="78" height="9.9" fill="#86ba94"/><line x1="445" y1="156.04" x2="701" y2="156.04" stroke="#e6e6e6" stroke-width="0.6"/><text class="lc" x="448" y="153.1">PDT-UIN</text><text class="tx" x="491" y="153.1">Pendleton, OR</text><text class="tx" x="555" y="153.1">Quincy, IL</text><text class="tx" x="619" y="153.1">1,740</text><text class="tx" x="662" y="153.1">Longhaul</text><text class="sc" x="740" y="153.1">46.40</text></g>
<g transform="translate(0,267.25)"><rect x="701" y="146" width="78" height="9.9" fill="#86ba94"/><line x1="445" y1="156.04" x2="701" y2="156.04" stroke="#e6e6e6" stroke-width="0.6"/><text class="lc" x="448" y="153.1">UIN-PDT</text><text class="tx" x="491" y="153.1">Quincy, IL</text><text class="tx" x="555" y="153.1">Pendleton, OR</text><text class="tx" x="619" y="153.1">1,739</text><text class="tx" x="662" y="153.1">Longhaul</text><text class="sc" x="740" y="153.1">46.40</text></g>
<g transform="translate(0,277.94)"><rect x="701" y="146" width="78" height="9.9" fill="#87ba95"/><line x1="445" y1="156.04" x2="701" y2="156.04" stroke="#e6e6e6" stroke-width="0.6"/><text class="lc" x="448" y="153.1">GRR-UIN</text><text class="tx" x="491" y="153.1">Grand Rapids, MI</text><text class="tx" x="555" y="153.1">Quincy, IL</text><text class="tx" x="619" y="153.1">465</text><text class="tx" x="662" y="153.1">Tweener</text><text class="sc" x="740" y="153.1">46.34</text></g>
<g transform="translate(0,288.63)"><rect x="701" y="146" width="78" height="9.9" fill="#87ba95"/><line x1="445" y1="156.04" x2="701" y2="156.04" stroke="#e6e6e6" stroke-width="0.6"/><text class="lc" x="448" y="153.1">UIN-GRR</text><text class="tx" x="491" y="153.1">Quincy, IL</text><text class="tx" x="555" y="153.1">Grand Rapids, MI</text><text class="tx" x="619" y="153.1">464</text><text class="tx" x="662" y="153.1">Tweener</text><text class="sc" x="740" y="153.1">46.34</text></g>
<g transform="translate(0,299.32)"><rect x="701" y="146" width="78" height="9.9" fill="#88bb95"/><line x1="445" y1="156.04" x2="701" y2="156.04" stroke="#e6e6e6" stroke-width="0.6"/><text class="lc" x="448" y="153.1">JLN-UIN</text><text class="tx" x="491" y="153.1">Joplin, MO</text><text class="tx" x="555" y="153.1">Quincy, IL</text><text class="tx" x="619" y="153.1">333</text><text class="tx" x="662" y="153.1">Midhaul</text><text class="sc" x="740" y="153.1">46.01</text></g>
<g transform="translate(0,310.01)"><rect x="701" y="146" width="78" height="9.9" fill="#88bb95"/><line x1="445" y1="156.04" x2="701" y2="156.04" stroke="#e6e6e6" stroke-width="0.6"/><text class="lc" x="448" y="153.1">UIN-JLN</text><text class="tx" x="491" y="153.1">Quincy, IL</text><text class="tx" x="555" y="153.1">Joplin, MO</text><text class="tx" x="619" y="153.1">333</text><text class="tx" x="662" y="153.1">Midhaul</text><text class="sc" x="740" y="153.1">46.01</text></g>
<g transform="translate(0,320.7)"><rect x="701" y="146" width="78" height="9.9" fill="#89bc96"/><line x1="445" y1="156.04" x2="701" y2="156.04" stroke="#e6e6e6" stroke-width="0.6"/><text class="lc" x="448" y="153.1">MSP-UIN</text><text class="tx" x="491" y="153.1">Minneapolis, MN</text><text class="tx" x="555" y="153.1">Quincy, IL</text><text class="tx" x="619" y="153.1">432</text><text class="tx" x="662" y="153.1">Midhaul</text><text class="sc" x="740" y="153.1">45.80</text></g>
<g transform="translate(0,331.39)"><rect x="701" y="146" width="78" height="9.9" fill="#89bc96"/><line x1="445" y1="156.04" x2="701" y2="156.04" stroke="#e6e6e6" stroke-width="0.6"/><text class="lc" x="448" y="153.1">UIN-MSP</text><text class="tx" x="491" y="153.1">Quincy, IL</text><text class="tx" x="555" y="153.1">Minneapolis, MN</text><text class="tx" x="619" y="153.1">431</text><text class="tx" x="662" y="153.1">Midhaul</text><text class="sc" x="740" y="153.1">45.80</text></g>
<g transform="translate(0,342.08)"><rect x="701" y="146" width="78" height="9.9" fill="#8abd97"/><line x1="445" y1="156.04" x2="701" y2="156.04" stroke="#e6e6e6" stroke-width="0.6"/><text class="lc" x="448" y="153.1">BUF-UIN</text><text class="tx" x="491" y="153.1">Buffalo, NY</text><text class="tx" x="555" y="153.1">Quincy, IL</text><text class="tx" x="619" y="153.1">795</text><text class="tx" x="662" y="153.1">Tweener</text><text class="sc" x="740" y="153.1">45.46</text></g>
<g transform="translate(0,352.77)"><rect x="701" y="146" width="78" height="9.9" fill="#8abd97"/><text class="lc" x="448" y="153.1">CLE-UIN</text><text class="tx" x="491" y="153.1">Cleveland, OH</text><text class="tx" x="555" y="153.1">Quincy, IL</text><text class="tx" x="619" y="153.1">620</text><text class="tx" x="662" y="153.1">Tweener</text><text class="sc" x="740" y="153.1">45.41</text></g>
</g>
</svg>
</body></html>
